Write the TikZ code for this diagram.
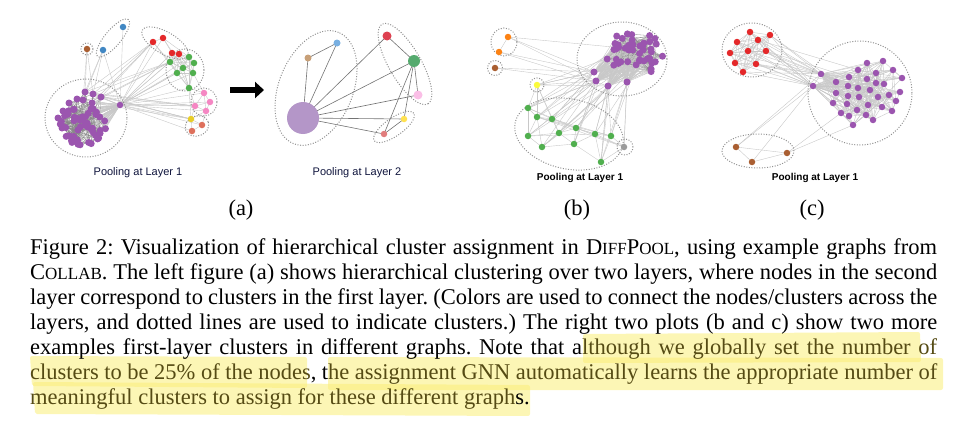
\documentclass[tikz,border=0pt]{standalone}
\usepackage{fontspec}
\setmainfont{Liberation Serif}
\newfontfamily\labfont{Liberation Sans}
\usetikzlibrary{arrows.meta,backgrounds}
\frenchspacing
\definecolor{cpur}{RGB}{155,85,175}
\definecolor{cred}{RGB}{228,40,42}
\definecolor{cgrn}{RGB}{80,175,78}
\definecolor{cblu}{RGB}{65,135,195}
\definecolor{cbrn}{RGB}{170,95,50}
\definecolor{cpnk}{RGB}{245,135,195}
\definecolor{cgld}{RGB}{232,205,40}
\definecolor{cylw}{RGB}{250,250,60}
\definecolor{corg}{RGB}{252,130,20}
\definecolor{cgry}{RGB}{155,155,155}
\definecolor{csal}{RGB}{222,112,92}
\definecolor{qpur}{RGB}{180,150,200}
\definecolor{qbrn}{RGB}{200,160,120}
\definecolor{qblu}{RGB}{120,175,225}
\definecolor{qred}{RGB}{222,65,80}
\definecolor{qgrn}{RGB}{85,170,110}
\definecolor{qpnk}{RGB}{250,190,230}
\definecolor{qylw}{RGB}{255,225,80}
\definecolor{qsal}{RGB}{225,125,125}
\definecolor{edgec}{RGB}{200,200,200}
\definecolor{edgedk}{RGB}{135,135,135}
\definecolor{dotc}{RGB}{145,145,145}
\definecolor{hlc}{RGB}{250,238,120}
\definecolor{hltext}{RGB}{85,75,20}
\definecolor{navy}{RGB}{15,20,60}
\newcommand\mysc[1]{{\fontsize{17pt}{17pt}\selectfont #1}}
\newcommand\hl[1]{\textcolor{hltext}{#1}}
\tikzset{
  nd/.style={circle,inner sep=0pt,minimum size=6.5pt,draw=none},
  ed/.style={draw=edgec,line width=0.4pt},
  edd/.style={draw=edgedk,line width=0.3pt},
  qed/.style={draw={rgb,255:red,115;green,115;blue,115},line width=0.6pt},
  clu/.style={draw=dotc,line width=1pt,dash pattern=on 1pt off 1.6pt},
  capt/.style={font=\fontsize{22.5pt}{25pt}\selectfont,inner sep=0pt,anchor=base west},
  sublab/.style={font=\fontsize{22.5pt}{25pt}\selectfont,inner sep=0pt,anchor=base},
  poolA/.style={font=\labfont\fontsize{11pt}{12pt}\selectfont,text=navy,inner sep=0pt},
  poolB/.style={font=\labfont\bfseries\fontsize{10pt}{12pt}\selectfont,text=black,inner sep=0pt},
  hlbox/.style={fill=hlc,fill opacity=0.55,draw=none,rounded corners=2pt}
}
\begin{document}
\begin{tikzpicture}[x=1pt,y=-1pt]
\pgfmathsetseed{12}
\path[use as bounding box] (0,0) rectangle (972,439);

%================ GRAPH (a) layer 1 ================
\foreach \i in {1,...,50}{
  \pgfmathsetmacro\aa{360*rnd}
  \pgfmathsetmacro\rr{sqrt(rnd)}
  \node[nd,fill=cpur,minimum size=7pt] (pa\i) at ({83+23*\rr*cos(\aa)},{126+20*\rr*sin(\aa)}) {};
}
\foreach \i/\x/\y in {51/85/92,52/93/94,53/101/97,54/77/99,55/69/103,56/83/100,57/92/103,58/63/111,59/58/118,60/62/128}
  \node[nd,fill=cpur,minimum size=7pt] (pa\i) at (\x,\y) {};
\node[nd,fill=cpur] (ah) at (120,105) {};
\node[nd,fill=cblu] (ab1) at (123,27) {};
\node[nd,fill=cblu] (ab2) at (103,50) {};
\node[nd,fill=cbrn] (abr) at (87,49) {};
\foreach \i/\x/\y in {1/153/42,2/163/38,3/172/53,4/179/54}
  \node[nd,fill=cred] (ar\i) at (\x,\y) {};
\foreach \i/\x/\y in {1/189/57,2/170/62,3/194/63,4/183/68,5/177/73,6/193/73,7/189/88}
  \node[nd,fill=cgrn] (ag\i) at (\x,\y) {};
\foreach \i/\x/\y in {1/204/93,2/210/102,3/195/106,4/206/111}
  \node[nd,fill=cpnk] (ap\i) at (\x,\y) {};
\node[nd,fill=cgld] (ay) at (191,119) {};
\node[nd,fill=csal] (as1) at (202,125) {};
\node[nd,fill=csal] (as2) at (192,131) {};

\begin{pgfonlayer}{background}
\foreach \i in {1,...,60}{
  \draw[ed] (ah.center) -- (pa\i.center);
  \foreach \k in {1,...,4}{
    \pgfmathtruncatemacro\j{random(1,60)}
    \draw[edd] (pa\i.center) -- (pa\j.center);
  }
}
\foreach \n in {ar1,ar2,ar3,ar4,ag1,ag2,ag3,ag4,ag5,ag6,ag7,ap1,ap2,ap3,ap4,ay,as1,as2,ab1,ab2}
  \draw[ed] (ah.center) -- (\n.center);
\foreach \n in {pa51,pa52,pa56}{
  \draw[ed] (abr.center) -- (\n.center);
  \draw[ed] (ab2.center) -- (\n.center);
}
\foreach \n in {pa51,pa53,pa57,pa52}{
  \draw[ed] (ar1.center) -- (\n.center);
  \draw[ed] (ag2.center) -- (\n.center);
  \draw[ed] (ap3.center) -- (\n.center);
  \draw[ed] (ay.center) -- (\n.center);
}
\foreach \i in {1,...,7}{
  \foreach \j in {\i,...,7}{\draw[ed] (ag\i.center) -- (ag\j.center);}
  \draw[ed] (ar3.center) -- (ag\i.center);
  \draw[ed] (ar4.center) -- (ag\i.center);
}
\foreach \a/\b in {ar1/ag2,ar1/ag5,ar2/ag1,ar2/ag4,ar1/ar2,ar3/ar4,ar2/ar3,ag7/ap1,ag7/ap3,ag6/ap1,ay/ap3,ay/as1,ay/as2,as1/as2,ay/ap4,ap4/as1,ag7/ay}
  \draw[ed] (\a.center) -- (\b.center);
\foreach \i in {1,...,4}{\foreach \j in {\i,...,4}{\draw[ed] (ap\i.center) -- (ap\j.center);}}
% clusters
\draw[clu] (113,38) ellipse [x radius=24pt,y radius=8pt,rotate=50];
\draw[clu] (87,49) circle [radius=6pt];
\draw[clu] (165,43) ellipse [x radius=26pt,y radius=11pt,rotate=-30];
\draw[clu] (185,70) ellipse [x radius=19pt,y radius=21pt];
\draw[clu] (204,102) ellipse [x radius=13pt,y radius=14pt];
\draw[clu] (197,126) ellipse [x radius=12pt,y radius=10pt,rotate=20];
\draw[clu] (86,118) ellipse [x radius=41pt,y radius=39pt];
\end{pgfonlayer}
\node[poolA] (la1) at (138,173) {Pooling at Layer 1};

% arrow
\coordinate (arS) at (230,90);
\coordinate (arE) at (264,90);
\draw[line width=6pt,-{Triangle[length=9pt,width=16pt]}] (arS) -- (arE);

%================ GRAPH (a) layer 2 ================
\node[nd,fill=qpur,minimum size=32pt] (qp) at (303,118) {};
\node[nd,fill=qbrn,minimum size=7pt] (qbr) at (308,58) {};
\node[nd,fill=qblu,minimum size=7pt] (qbl) at (337,43) {};
\node[nd,fill=qred,minimum size=9pt] (qr) at (387,36) {};
\node[nd,fill=qgrn,minimum size=12pt] (qg) at (414,61) {};
\node[nd,fill=qpnk,minimum size=9pt] (qpk) at (418,95) {};
\node[nd,fill=qylw,minimum size=6.5pt] (qy) at (404,119) {};
\node[nd,fill=qsal,minimum size=6.5pt] (qs) at (384,134) {};
\begin{pgfonlayer}{background}
\foreach \a/\b in {qp/qbr,qp/qbl,qbr/qbl,qp/qr,qp/qg,qp/qpk,qp/qy,qp/qs,qr/qg,qg/qpk,qg/qy,qg/qs,qy/qs}
  \draw[qed] (\a.center) -- (\b.center);
\draw[clu] (316,88) ellipse [x radius=60pt,y radius=37pt,rotate=68];
\draw[clu] (405,64) ellipse [x radius=46pt,y radius=16pt,rotate=-60];
\draw[clu] (394,127) ellipse [x radius=24pt,y radius=9pt,rotate=35];
\end{pgfonlayer}
\node[poolA] (la2) at (357,173) {Pooling at Layer 2};
\node[sublab] (suba) at (241,215) {(a)};

%================ GRAPH (b) ================
\foreach \i in {1,...,44}{
  \pgfmathsetmacro\aa{360*rnd}
  \pgfmathsetmacro\rr{sqrt(rnd)}
  \node[nd,fill=cpur,minimum size=7pt] (pb\i) at ({634+29*\rr*cos(\aa)},{54+23*\rr*sin(\aa)}) {};
}
\foreach \i/\x/\y in {1/594/72,2/596/81,3/608/86,4/627/82}
  \node[nd,fill=cpur,minimum size=7pt] (bp\i) at (\x,\y) {};
\node[nd,fill=corg] (bo1) at (508,37) {};
\node[nd,fill=corg] (bo2) at (499,52) {};
\node[nd,fill=cbrn] (bbr) at (495,68) {};
\node[nd,fill=cylw] (byl) at (537,85) {};
\foreach \i/\x/\y in {1/528/108,2/537/117,3/552/119,4/528/136,5/542/147,6/559/133,7/576/128,8/574/144,9/595/134,10/611/136,11/601/162}
  \node[nd,fill=cgrn] (bg\i) at (\x,\y) {};
\node[nd,fill=cgry] (bgr) at (624,147) {};
\begin{pgfonlayer}{background}
\foreach \i in {1,...,44}{
  \foreach \k in {1,...,5}{
    \pgfmathtruncatemacro\j{random(1,44)}
    \draw[edd] (pb\i.center) -- (pb\j.center);
  }
  \foreach \p in {1,...,4}{\draw[ed] (bp\p.center) -- (pb\i.center);}
}
\foreach \g in {1,...,11}{
  \pgfmathtruncatemacro\j{random(1,44)}
  \draw[ed] (pb\j.center) -- (bg\g.center);
  \pgfmathtruncatemacro\j{random(1,4)}
  \draw[ed] (bp\j.center) -- (bg\g.center);
}
\foreach \a/\b in {bg1/bg2,bg1/bg4,bg1/bg3,bg2/bg3,bg2/bg4,bg2/bg5,bg2/bg9,bg2/bg10,bg3/bg6,bg3/bg7,bg4/bg5,bg4/bg6,bg5/bg6,bg5/bg8,bg6/bg7,bg6/bg8,bg7/bg9,bg7/bg8,bg8/bg9,bg9/bg10,bg8/bg11,bg9/bg11,bg10/bg11,bg3/bg10,bg4/bg9,bg1/bg7,
  bgr/bg10,bgr/bg9,bgr/bg11,bgr/bg7,bgr/bg2,bgr/bp4,bgr/pb5,
  bp1/bg1,bp1/bg2,bp1/bg3,bp2/bg4,bp2/bg6,bp3/bg7,bp3/bg9,bp4/bg10,bp3/bg11,bp1/bg5,bp2/bg8,bp4/bg11,bp2/bg1,
  byl/bp1,byl/bp2,byl/bp3,byl/bg1,byl/bg3,byl/bg2,byl/pb3,byl/pb7,byl/bg6,
  bo1/bo2,bo1/bp1,bo1/bp2,bo2/bp1,bo2/bp3,bbr/bp1,bbr/bp2,bo1/pb2}
  \draw[ed] (\a.center) -- (\b.center);
\draw[clu] (504,42) ellipse [x radius=13pt,y radius=14pt];
\draw[clu] (495,68) circle [radius=7.5pt];
\draw[clu] (537,85) circle [radius=7pt];
\draw[clu] (622,59) ellipse [x radius=45pt,y radius=37pt];
\draw[clu] (569,134) ellipse [x radius=55pt,y radius=35pt,rotate=-12];
\draw[clu] (625,147) circle [radius=8pt];
\end{pgfonlayer}
\node[poolB] (lb) at (580,178) {Pooling at Layer 1};
\node[sublab] (subb) at (577,215) {(b)};

%================ GRAPH (c) ================
\foreach \i/\x/\y in {1/750/32,2/770/35,3/737/42,4/758/40,5/730/53,6/748/51,7/766/51,8/735/63,9/756/64,10/743/72}
  \node[nd,fill=cred] (cr\i) at (\x,\y) {};
\foreach \i/\x/\y in {1/867/63,2/883/61,3/858/70,4/876/73,5/893/70,6/849/77,7/902/78,8/836/82,9/867/79,10/884/84,
  11/848/86,12/858/88,13/870/90,14/878/97,15/889/95,16/836/93,17/859/97,18/848/96,19/900/92,20/833/103,
  21/847/104,22/868/105,23/882/107,24/841/113,25/857/110,26/892/111,27/849/116,28/853/125,29/873/120,30/866/115,31/896/101,32/876/83}
  \node[nd,fill=cpur] (pc\i) at (\x,\y) {};
\node[nd,fill=cpur] (cp1) at (821,74) {};
\node[nd,fill=cpur] (cp2) at (813,86) {};
\node[nd,fill=cbrn] (cb1) at (736,147) {};
\node[nd,fill=cbrn] (cb2) at (752,162) {};
\node[nd,fill=cbrn] (cb3) at (787,153) {};
\begin{pgfonlayer}{background}
\foreach \i in {1,...,10}{
  \foreach \j in {\i,...,10}{\draw[ed] (cr\i.center) -- (cr\j.center);}
  \draw[ed] (cr\i.center) -- (cp1.center);
  \draw[ed] (cr\i.center) -- (cp2.center);
}
\foreach \a/\b in {cr2/pc8,cr7/pc6,cr9/pc8,cr4/pc3,cr7/pc16}
  \draw[ed] (\a.center) -- (\b.center);
\foreach \i in {1,...,32}{
  \draw[ed] (cp1.center) -- (pc\i.center);
  \draw[ed] (cp2.center) -- (pc\i.center);
  \foreach \k in {1,...,5}{
    \pgfmathtruncatemacro\j{random(1,32)}
    \draw[ed] (pc\i.center) -- (pc\j.center);
  }
}
\foreach \a/\b in {cp1/cp2,cb1/cb2,cb1/cb3,cb2/cb3,cb1/cp2,cb2/cp2,cb3/pc28,cb3/pc24,cb1/cp1}
  \draw[ed] (\a.center) -- (\b.center);
\draw[clu] (752,50) ellipse [x radius=30pt,y radius=27pt];
\draw[clu] (860,93) circle [radius=52pt];
\draw[clu] (758,151) ellipse [x radius=36pt,y radius=17pt];
\end{pgfonlayer}
\node[poolB] (lc) at (815,178) {Pooling at Layer 1};
\node[sublab] (subc) at (812,215) {(c)};

%================ CAPTION ================
\fill[hlbox] (583,334) -- (920,332) -- (921,362) -- (583,363) -- cycle;
\fill[hlbox] (30,356) -- (307,357) -- (307,388) -- (32,386) -- cycle;
\fill[hlbox] (328,357) -- (943,358) -- (943,390) -- (328,390) -- cycle;
\fill[hlbox] (33,382) -- (530,385) -- (530,416) -- (35,414) -- cycle;

\node[capt] (c1) at (30,254) {\hbox to 907pt{Figure 2: Visualization of hierarchical cluster assignment in D\mysc{IFF}P\mysc{OOL}, using example graphs from}};
\node[capt] (c2) at (30,279) {\hbox to 907pt{C\mysc{OLLAB}. The left figure (a) shows hierarchical clustering over two layers, where nodes in the second}};
\node[capt] (c3) at (30,304) {\hbox to 907pt{layer correspond to clusters in the first layer. (Colors are used to connect the nodes/clusters across the}};
\node[capt] (c4) at (30,329) {\hbox to 907pt{layers, and dotted lines are used to indicate clusters.) The right two plots (b and c) show two more}};
\node[capt] (c5) at (30,354) {\hbox to 907pt{examples first-layer clusters in different graphs. Note that a\hl{lthough we globally set the number of}}};
\node[capt] (c6) at (30,379) {\hbox to 907pt{\hl{clusters to be 25\% of the nodes}, t\hl{he assignment GNN automatically learns the appropriate number of}}};
\node[capt] (c7) at (30,404) {\hl{meaningful clusters to assign for these different graph}s.};
\end{tikzpicture}
\end{document}
